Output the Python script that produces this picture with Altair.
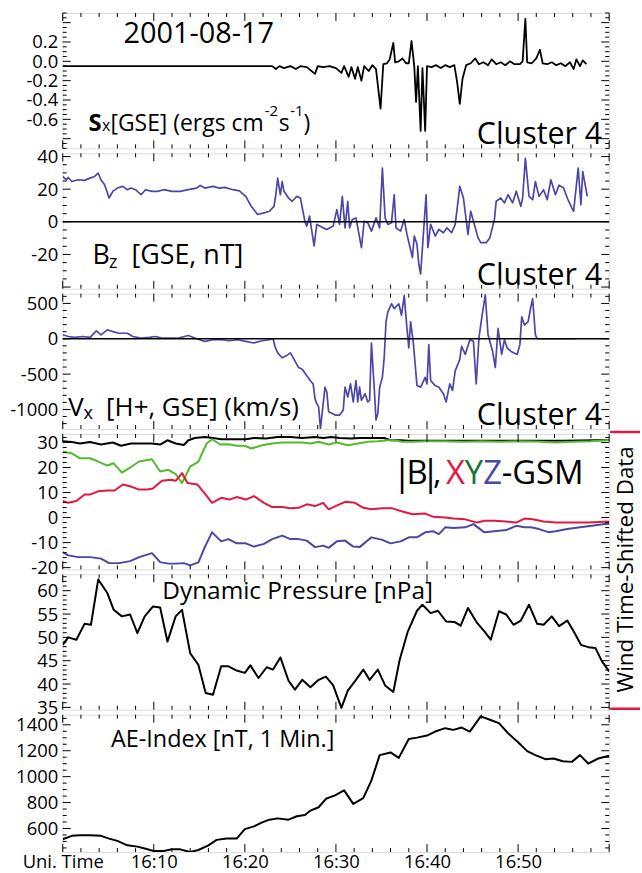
import altair as alt
import pandas as pd

FONT = "Open Sans"
W = 549
BLUE = "#4B47A6"
RED = "#E3173F"
GREEN = "#52BB2E"
DKGREEN = "#19763A"

# ---------------- data (minutes after 16:00 UT, value) ----------------
sx = [(0, -0.05), (23.0, -0.05), (23.4, -0.08), (23.8, -0.05), (24.3, -0.07), (25.0, -0.05), (25.6, -0.08),
      (26.1, -0.05), (26.8, -0.06), (27.7, -0.13), (28.0, -0.05), (28.6, -0.06), (29.3, -0.05), (30.0, -0.07),
      (30.6, -0.12), (30.9, -0.05), (31.4, -0.16), (31.7, -0.06), (32.1, -0.18), (32.4, -0.06), (32.8, -0.2),
      (33.1, -0.05), (33.6, -0.1), (34.0, -0.04), (34.4, -0.08), (34.9, -0.49), (35.2, -0.03), (35.6, -0.02),
      (35.9, 0.02), (36.3, 0.19), (36.5, -0.01), (36.9, 0.0), (37.3, 0.03), (37.7, -0.02), (38.0, -0.02),
      (38.3, 0.21), (38.6, -0.05), (38.8, -0.42), (39.0, -0.05), (39.3, -0.72), (39.5, -0.07), (39.8, -0.72),
      (40.0, -0.05), (40.5, -0.06), (41.0, -0.04), (41.5, -0.07), (42.0, -0.04), (42.5, -0.06), (43.0, -0.04),
      (43.3, -0.21), (43.6, -0.44), (43.9, -0.18), (44.3, -0.04), (44.8, -0.02), (45.3, 0.03), (45.7, -0.03),
      (46.2, -0.01), (46.7, -0.04), (47.1, 0.02), (47.6, -0.03), (48.1, -0.01), (48.6, -0.04), (49.1, 0.0),
      (49.6, -0.03), (50.2, -0.03), (50.5, 0.0), (50.8, 0.44), (51.0, -0.01), (51.5, -0.02), (52.0, 0.03),
      (52.4, 0.12), (52.7, -0.02), (53.2, -0.03), (53.7, -0.01), (54.2, -0.04), (54.7, -0.02), (55.2, -0.05),
      (55.7, -0.01), (56.1, -0.08), (56.4, 0.02), (56.8, -0.05), (57.1, 0.01), (57.5, -0.03)]

bz = [(0, 27.8), (0.4, 25.8), (0.6, 27.2), (1.0, 24.7), (1.7, 25.8), (2.4, 25.4), (3.0, 26.8), (3.5, 27.8),
      (3.9, 29.8), (4.2, 25.8), (4.6, 22.7), (5.1, 14.6), (5.5, 18.7), (6.0, 20.7), (6.6, 21.7), (7.1, 19.7),
      (7.5, 20.7), (8.0, 19.7), (8.6, 16.6), (9.1, 19.7), (9.8, 18.7), (10.4, 18.7), (11.1, 19.7), (12.0, 18.7),
      (12.9, 18.7), (13.8, 19.7), (14.7, 20.7), (15.1, 22.3), (15.6, 20.7), (16.5, 21.7), (17.2, 20.7),
      (17.8, 21.1), (18.7, 19.7), (19.4, 19.0), (20.1, 15.6), (20.7, 9.5), (21.4, 4.5), (22.1, 5.5), (22.7, 6.5),
      (23.2, 9.5), (23.4, 16.6), (23.6, 26.8), (23.9, 16.6), (24.1, 24.7), (24.3, 18.7), (24.8, 14.6),
      (25.2, 12.6), (25.7, 15.6), (26.1, 14.6), (26.6, 0.0), (26.8, -2.6), (27.1, 3.5), (27.6, -14.8),
      (27.9, -1.6), (28.6, -3.7), (29.0, -4.7), (29.7, -2.6), (30.1, 7.5), (30.4, -1.6), (30.7, 15.6),
      (31.0, -3.7), (31.3, 12.6), (31.5, -3.7), (31.8, 1.4), (32.2, 2.4), (32.6, -9.7), (32.8, -15.8),
      (33.1, 0.4), (33.5, -0.6), (33.9, -5.7), (34.4, 2.4), (34.8, -3.7), (35.1, 32.9), (35.4, 2.4),
      (35.7, -1.6), (36.1, -0.6), (36.4, 16.6), (36.6, -3.7), (37.1, -5.7), (37.5, 1.4), (37.8, -7.7),
      (38.1, -14.8), (38.4, -21.9), (38.6, -8.7), (38.9, -13.8), (39.1, -26.0), (39.3, -32.0), (39.5, -15.8),
      (39.9, 16.6), (40.1, -15.8), (40.4, -1.6), (40.9, -8.7), (41.3, -4.7), (41.8, -6.7), (42.2, -3.7),
      (42.7, -6.7), (43.1, -1.6), (43.6, 21.7), (44.0, 14.6), (44.5, -7.7), (44.8, 6.5), (45.1, 0.4),
      (45.6, -9.7), (45.9, -12.8), (46.5, -12.8), (46.9, -9.7), (47.4, 1.4), (47.6, 12.6), (48.1, 14.6),
      (48.5, 11.6), (48.9, 16.6), (49.4, 11.6), (49.8, 18.7), (50.3, 9.5), (50.5, 14.6), (50.8, 38.9),
      (51.2, 15.6), (51.6, 13.6), (51.9, 24.7), (52.3, 15.6), (52.8, 19.7), (53.2, 13.6), (53.6, 25.8),
      (54.1, 16.6), (54.5, 22.5), (55.0, 20.7), (55.4, 14.6), (55.9, 8.5), (56.1, 6.5), (56.6, 32.9),
      (56.9, 10.5), (57.1, 30.8), (57.6, 15.6)]

vx = [(0, 56), (0.6, 32), (1.3, 19), (2.2, 32), (3.0, 19), (3.7, 111), (4.2, 56), (4.9, 125), (5.5, 102),
      (6.2, 78), (7.1, 78), (7.7, 32), (8.6, 9), (9.5, 19), (10.2, 32), (10.9, 9), (11.8, 9), (12.7, 9),
      (13.8, 46), (14.7, 0), (15.6, -37), (16.5, -14), (17.4, -14), (18.3, -28), (19.2, -14), (20.1, -37),
      (21.0, -60), (21.9, -28), (22.7, -14), (23.1, 0), (23.3, -106), (23.6, -199), (24.1, -268), (24.5, -245),
      (25.0, -199), (25.4, -292), (25.9, -407), (26.3, -430), (26.8, -523), (27.2, -593), (27.5, -639),
      (27.7, -847), (27.9, -917), (28.1, -963), (28.3, -1270), (28.6, -917), (28.8, -685), (29.0, -755),
      (29.2, -1032), (29.6, -1056), (29.9, -1079), (30.4, -1079), (30.8, -1010), (31.0, -685), (31.3, -824),
      (31.6, -639), (31.9, -894), (32.2, -593), (32.4, -894), (32.6, -685), (32.8, -870), (33.2, -777),
      (33.5, -894), (33.7, -870), (33.9, -60), (34.2, -685), (34.4, -1148), (34.6, -1056), (34.8, -685),
      (35.1, -546), (35.3, -269), (35.5, 241), (35.7, 380), (36.1, 495), (36.4, 426), (36.9, 495), (37.2, 333),
      (37.5, 611), (37.8, 148), (38.0, -130), (38.2, 241), (38.5, -60), (38.9, -662), (39.3, -685),
      (39.8, -546), (40.0, -639), (40.2, -83), (40.4, -593), (40.9, -662), (41.3, -685), (41.8, -778),
      (42.1, -894), (42.5, -639), (42.8, -731), (43.1, -454), (43.6, -292), (43.8, -106), (44.2, -222),
      (44.7, -14), (45.1, -37), (45.4, -639), (45.7, 9), (46.0, 287), (46.4, 620), (46.7, 56), (47.2, -176),
      (47.5, -407), (47.8, 148), (48.2, -222), (48.5, -14), (48.8, -130), (49.2, -176), (49.5, -199),
      (49.9, -222), (50.2, -83), (50.4, 310), (50.7, 194), (51.1, 241), (51.4, 449), (51.6, 565), (51.9, 56),
      (52.1, 0), (56.3, 0)]

b_total = [(0, 30.5), (1.0, 30.2), (1.9, 29.6), (3.0, 30.2), (4.2, 29.2), (5.5, 30.0), (6.4, 28.7),
           (7.5, 29.6), (8.6, 29.6), (9.8, 29.6), (10.7, 29.2), (11.5, 30.9), (12.4, 29.6), (13.3, 29.0),
           (13.8, 30.9), (14.5, 31.8), (15.6, 32.2), (16.5, 31.8), (17.4, 31.3), (18.3, 31.3), (19.2, 31.3),
           (20.1, 31.3), (21.0, 31.8), (22.3, 31.6), (23.6, 32.2), (25.0, 32.2), (26.3, 31.8), (27.7, 32.2),
           (28.6, 31.8), (29.5, 32.2), (30.4, 31.8), (31.7, 31.6), (32.6, 31.8), (33.5, 31.8), (34.4, 31.8),
           (35.3, 31.8), (36.0, 30.9), (37.1, 30.9), (38.0, 30.7), (40.0, 30.7), (45.0, 30.7), (50.0, 30.7),
           (55.0, 30.7), (60.0, 31.0)]

b_x = [(0, 6.6), (0.6, 5.9), (1.5, 6.6), (2.4, 9.2), (3.0, 9.2), (3.9, 10.5), (4.9, 10.8), (5.7, 10.8),
       (6.6, 13.2), (7.4, 12.5), (8.4, 11.2), (9.3, 11.2), (9.9, 11.6), (10.9, 14.7), (11.9, 15.1), (12.4, 14.7),
       (13.1, 17.8), (13.7, 13.8), (14.8, 13.2), (15.7, 9.2), (16.4, 5.9), (17.4, 7.9), (18.3, 7.2), (19.1, 8.2),
       (20.1, 7.2), (21.0, 8.6), (22.1, 5.9), (23.0, 4.2), (24.1, 4.2), (25.0, 3.7), (25.9, 3.9), (26.8, 5.3),
       (27.7, 4.6), (28.6, 5.9), (29.2, 3.3), (29.9, 4.5), (31.0, 6.3), (32.1, 5.9), (33.0, 3.9), (33.9, 3.3),
       (35.1, 3.7), (36.2, 3.7), (37.3, 2.4), (38.4, 1.3), (39.8, 1.6), (40.7, 0.3), (42.0, 0.0), (42.9, -0.4),
       (44.2, -0.7), (45.5, -2.0), (46.3, -1.3), (47.4, -1.3), (48.7, -1.6), (49.8, -2.0), (50.7, -0.4),
       (51.6, -0.7), (52.8, -1.6), (54.1, -2.0), (55.9, -2.0), (57.7, -2.0), (60.0, -1.6)]

b_y = [(0, 26.3), (1.0, 25.7), (1.9, 23.7), (3.0, 23.7), (3.9, 22.4), (4.9, 20.8), (5.6, 21.7), (6.5, 18.0),
       (7.4, 20.0), (8.4, 22.4), (9.8, 23.3), (10.7, 18.4), (11.6, 19.1), (12.4, 17.4), (13.1, 13.8),
       (14.0, 20.4), (14.9, 22.4), (15.8, 29.6), (16.4, 31.3), (17.3, 29.2), (18.2, 29.3), (19.1, 28.7),
       (20.0, 28.7), (20.7, 27.6), (21.9, 28.9), (23.0, 29.6), (24.1, 30.0), (25.2, 30.0), (26.3, 30.0),
       (27.2, 29.6), (28.1, 30.3), (29.2, 29.2), (30.1, 30.0), (31.3, 28.9), (32.4, 29.6), (33.5, 30.3),
       (34.6, 30.5), (35.7, 30.9), (36.4, 30.9), (37.3, 30.3), (38.4, 30.3), (39.8, 30.5), (42.0, 30.5),
       (44.0, 30.3), (46.0, 30.5), (48.0, 30.3), (50.0, 30.5), (52.0, 30.4), (54.1, 30.0), (56.0, 30.3),
       (58.0, 30.5), (60.0, 31.0)]

b_z = [(0, -13.8), (0.6, -15.1), (1.7, -15.8), (3.0, -15.8), (4.2, -16.4), (5.1, -18.2), (6.2, -18.2),
       (7.4, -17.4), (8.4, -15.8), (9.8, -14.2), (10.7, -17.8), (11.6, -18.4), (12.4, -18.4), (13.3, -18.2),
       (14.0, -19.1), (14.9, -17.9), (15.6, -11.8), (16.4, -5.9), (17.4, -9.5), (18.2, -8.6), (19.1, -10.3),
       (20.1, -10.3), (21.0, -11.6), (22.1, -10.5), (23.0, -8.6), (24.1, -7.2), (25.0, -8.6), (25.9, -8.6),
       (26.8, -9.2), (27.7, -11.8), (28.6, -11.2), (29.2, -12.1), (30.1, -9.5), (31.0, -9.2), (31.9, -11.6),
       (32.6, -11.8), (33.9, -7.9), (35.1, -8.9), (36.0, -10.3), (37.1, -9.5), (38.0, -7.9), (38.9, -7.9),
       (39.8, -5.9), (40.7, -5.5), (41.3, -6.6), (42.0, -3.9), (42.9, -4.2), (44.2, -3.9), (45.1, -2.6),
       (46.3, -5.9), (47.4, -5.5), (48.7, -5.0), (49.8, -3.3), (50.7, -3.9), (51.4, -3.9), (52.3, -4.6),
       (53.4, -5.9), (54.1, -5.5), (55.4, -4.6), (56.8, -3.9), (58.1, -3.3), (59.5, -2.6), (60.0, -2.6)]

pdyn = [(0, 48.4), (0.6, 50.0), (1.5, 49.5), (2.4, 52.9), (3.1, 52.7), (3.9, 62.4), (4.9, 59.5), (5.6, 55.9),
        (6.5, 54.5), (7.4, 54.9), (8.2, 50.9), (9.0, 54.5), (9.9, 56.6), (10.7, 56.4), (11.5, 49.1), (12.4, 54.5),
        (13.1, 55.9), (14.0, 46.6), (14.9, 44.1), (15.7, 38.1), (16.5, 37.7), (17.4, 43.8), (18.2, 43.8),
        (19.1, 42.9), (20.0, 42.4), (20.6, 44.0), (21.5, 41.3), (22.4, 43.6), (23.1, 43.1), (23.9, 45.7),
        (24.8, 40.7), (25.5, 38.8), (26.3, 40.9), (27.2, 39.3), (28.1, 40.9), (28.9, 41.6), (29.7, 39.7),
        (30.6, 34.9), (31.3, 38.6), (32.2, 40.9), (33.0, 43.1), (33.7, 40.9), (34.6, 43.1), (35.4, 39.7),
        (36.3, 38.3), (37.0, 45.2), (37.9, 51.3), (38.9, 55.7), (39.5, 57.0), (40.4, 55.2), (41.2, 55.7),
        (42.1, 53.4), (43.0, 53.3), (43.7, 52.5), (44.5, 56.3), (45.5, 53.1), (46.3, 51.3), (47.0, 49.5),
        (47.9, 55.6), (48.7, 54.9), (49.5, 52.7), (50.3, 53.6), (51.2, 57.0), (52.1, 52.9), (52.8, 52.7),
        (53.7, 54.5), (54.5, 52.4), (55.4, 53.6), (56.1, 51.3), (56.9, 48.4), (57.7, 47.9), (58.5, 47.7),
        (59.2, 44.9), (60.0, 42.7)]

ae = [(0, 517), (1.0, 543), (1.9, 548), (3.0, 548), (4.2, 543), (5.1, 522), (6.0, 504), (7.1, 470), (8.2, 460),
      (9.1, 444), (10.0, 426), (11.1, 426), (12.0, 439), (12.9, 439), (14.0, 418), (14.9, 434), (16.0, 470),
      (16.9, 512), (18.0, 522), (19.1, 522), (20.0, 595), (21.0, 616), (21.9, 647), (22.7, 668), (23.6, 678),
      (24.8, 668), (25.7, 694), (26.6, 704), (27.2, 738), (28.1, 764), (28.9, 829), (29.9, 855), (30.9, 894),
      (31.9, 790), (33.0, 834), (33.9, 971), (34.8, 1166), (36.0, 1187), (36.9, 1145), (38.0, 1291),
      (38.9, 1301), (40.0, 1317), (40.9, 1348), (42.0, 1374), (42.9, 1361), (43.8, 1379), (44.7, 1348),
      (45.9, 1465), (46.9, 1439), (47.9, 1413), (48.9, 1335), (50.0, 1265), (51.0, 1197), (51.9, 1166),
      (53.0, 1135), (53.9, 1140), (54.9, 1119), (55.9, 1114), (56.8, 1166), (57.7, 1101), (58.8, 1140),
      (60.0, 1161)]

# axis tick labels
time_ticks = [0, 10, 20, 30, 40, 50]
sx_labels = [-0.6, -0.4, -0.2, 0.0, 0.2]
bz_labels = [-20, 0, 20, 40]
vx_labels = [-1000, -500, 0, 500]
b_labels = [-20, -10, 0, 10, 20, 30]
p_labels = [35, 40, 45, 50, 55, 60]
ae_labels = [600, 800, 1000, 1200, 1400]

ONE = pd.DataFrame({"a": [0]})
LBL = 18.5


def frame(pairs):
    return pd.DataFrame(pairs, columns=["t", "v"])


def txt(s, x, y, size, color="black", align="left", weight="normal", angle=None, baseline="alphabetic"):
    kw = dict(text=s, font=FONT, fontSize=size, color=color, align=align, baseline=baseline, fontWeight=weight)
    if angle is not None:
        kw["angle"] = angle
    return alt.Chart(ONE).mark_text(**kw).encode(x=alt.value(x), y=alt.value(y))


def steps(lo, hi, step, n):
    return [round(lo + step * i, 4) for i in range(n) if lo + step * i <= hi + 1e-9]


def panel(series, ydom, ymajor, yminor, ylabels, lexpr, texts, H=136, zero=False, bottom=False):
    xs = alt.Scale(domain=[0, 60], nice=False, zero=False)
    ys = alt.Scale(domain=ydom, nice=False, zero=False)
    yax = alt.Axis(values=ylabels, labelExpr=lexpr, ticks=False, domain=False, grid=False, title=None,
                   labelFont=FONT, labelFontSize=LBL, labelColor="black", labelPadding=5,
                   labelFlush=False, labelOverlap=False)
    if bottom:
        xax = alt.Axis(values=time_ticks,
                       labelExpr="datum.value == 0 ? 'Uni. Time' : '16:' + datum.value",
                       ticks=False, domain=False, grid=False, title=None, labelFont=FONT,
                       labelFontSize=LBL, labelColor="black", labelPadding=1, labelFlush=False,
                       labelOverlap=False)
    else:
        xax = None

    def X():
        return alt.X("t:Q", scale=xs, axis=xax)

    def Y():
        return alt.Y("v:Q", scale=ys, axis=yax)

    layers = []
    for pairs, color, sw in series:
        layers.append(alt.Chart(frame(pairs)).mark_line(color=color, strokeWidth=sw, clip=True,
                                                        strokeJoin="round").encode(x=X(), y=Y()))
    if zero:
        layers.append(alt.Chart(pd.DataFrame({"v": [0]})).mark_rule(color="black", strokeWidth=1.6)
                      .encode(y=Y()))
    # inward ticks
    xmaj = pd.DataFrame({"t": list(range(0, 61, 10))})
    xmin = pd.DataFrame({"t": [m for m in range(0, 61, 2) if m % 10]})
    for df, ln in ((xmaj, 8), (xmin, 4)):
        layers.append(alt.Chart(df).mark_rule(color="black", strokeWidth=1)
                      .encode(x=X(), y=alt.value(H - ln), y2=alt.value(H)))
        layers.append(alt.Chart(df).mark_rule(color="black", strokeWidth=1)
                      .encode(x=X(), y=alt.value(0), y2=alt.value(ln)))
    ymaj = pd.DataFrame({"v": ymajor})
    ymin = pd.DataFrame({"v": yminor})
    for df, ln in ((ymaj, 8), (ymin, 4)):
        layers.append(alt.Chart(df).mark_rule(color="black", strokeWidth=1)
                      .encode(y=Y(), x=alt.value(0), x2=alt.value(ln)))
        layers.append(alt.Chart(df).mark_rule(color="black", strokeWidth=1)
                      .encode(y=Y(), x=alt.value(W - ln), x2=alt.value(W)))
    layers.extend(texts)
    return alt.layer(*layers).properties(width=W, height=H)


def minor(vals, majors):
    return [v for v in vals if all(abs(v - m) > 1e-6 for m in majors)]


# ---------------- panels ----------------
p1_major = [-0.8, -0.6, -0.4, -0.2, 0.0, 0.2, 0.4]
p1 = panel([(sx, "black", 1.8)], [-0.9, 0.5], p1_major,
           minor(steps(-0.9, 0.5, 0.05, 40), p1_major), sx_labels,
           "datum.value == 0 ? '0.0' : toString(datum.value)",
           [txt("2001-08-17", 61, 30, 29),
            txt("S", 26, 119, 24, weight="bold"),
            txt("x", 39.5, 119, 16),
            txt("[GSE] (ergs cm", 48, 119, 23),
            txt("-2", 203, 103, 15),
            txt("s", 217, 119, 23),
            txt("-1", 228.5, 103, 15),
            txt(")", 242, 119, 23),
            txt("Cluster 4", 542, 132, 30.5, align="right")])

p2_major = [-40, -20, 0, 20, 40]
p2 = panel([(bz, BLUE, 1.7)], [-41, 42], p2_major, minor(steps(-40, 42, 5, 20), p2_major), bz_labels,
           "toString(datum.value)",
           [txt("B", 30, 111, 27), txt("z", 46.5, 115, 18), txt("[GSE, nT]", 69, 111, 27),
            txt("Cluster 4", 542, 132, 30.5, align="right")], zero=True)

p3_major = [-1000, -500, 0, 500]
p3 = panel([(vx, BLUE, 1.7)], [-1277, 638], p3_major, minor(steps(-1200, 638, 100, 20), p3_major), vx_labels,
           "toString(datum.value)",
           [txt("V", 5.5, 123, 26), txt("x", 21, 126, 18), txt("[H+, GSE] (km/s)", 43.6, 123, 26),
            txt("Cluster 4", 542, 132, 30.5, align="right")], zero=True)

p4_major = [-20, -10, 0, 10, 20, 30]
bracket = [
    alt.Chart(ONE).mark_rule(color=RED, strokeWidth=2.5).encode(x=alt.value(W + 1), x2=alt.value(W + 31),
                                                                 y=alt.value(-2)),
    alt.Chart(ONE).mark_rule(color=RED, strokeWidth=2.5).encode(x=alt.value(W + 1), x2=alt.value(W + 31),
                                                                 y=alt.value(276)),
    txt("Wind Time-Shifted Data", 566, 136, 22.5, angle=270, align="center", baseline="middle"),
]
p4 = panel([(b_total, "black", 2), (b_y, GREEN, 2), (b_x, RED, 2), (b_z, BLUE, 2)], [-20.7, 33.4], p4_major,
           minor(steps(-20, 33.4, 2, 30), p4_major), b_labels, "toString(datum.value)",
           [txt("|", 341, 51, 36, align="center"), txt("B", 345.5, 50, 33), txt("|", 369.5, 51, 36, align="center"),
            txt(",", 372, 50, 33), txt("X", 385, 50, 33, color=RED), txt("Y", 404, 50, 33, color=DKGREEN),
            txt("Z", 422.5, 50, 33, color=BLUE), txt("-GSM", 441, 50, 33)] + bracket)

p5_major = [35, 40, 45, 50, 55, 60]
p5 = panel([(pdyn, "black", 2)], [34.5, 63.5], p5_major, minor(steps(35, 63.5, 1, 30), p5_major), p_labels,
           "toString(datum.value)",
           [txt("Dynamic Pressure [nPa]", 100, 25, 24.5)])

p6_major = [600, 800, 1000, 1200, 1400]
p6 = panel([(ae, "black", 2)], [418, 1478], p6_major, minor(steps(450, 1478, 50, 30), p6_major), ae_labels,
           "toString(datum.value)",
           [txt("AE-Index [nT, 1 Min.]", 48.5, 32, 23.5)], H=138, bottom=True)

chart = alt.vconcat(p1, p2, p3, p4, p5, p6, spacing=5, bounds="flush").properties(
    padding={"left": 9, "top": 10, "right": 0, "bottom": 0}
).configure_view(stroke="black", strokeWidth=1.8).configure(font=FONT, background="white")

chart.save("out.html", embed_options={"renderer": "svg", "actions": False})
